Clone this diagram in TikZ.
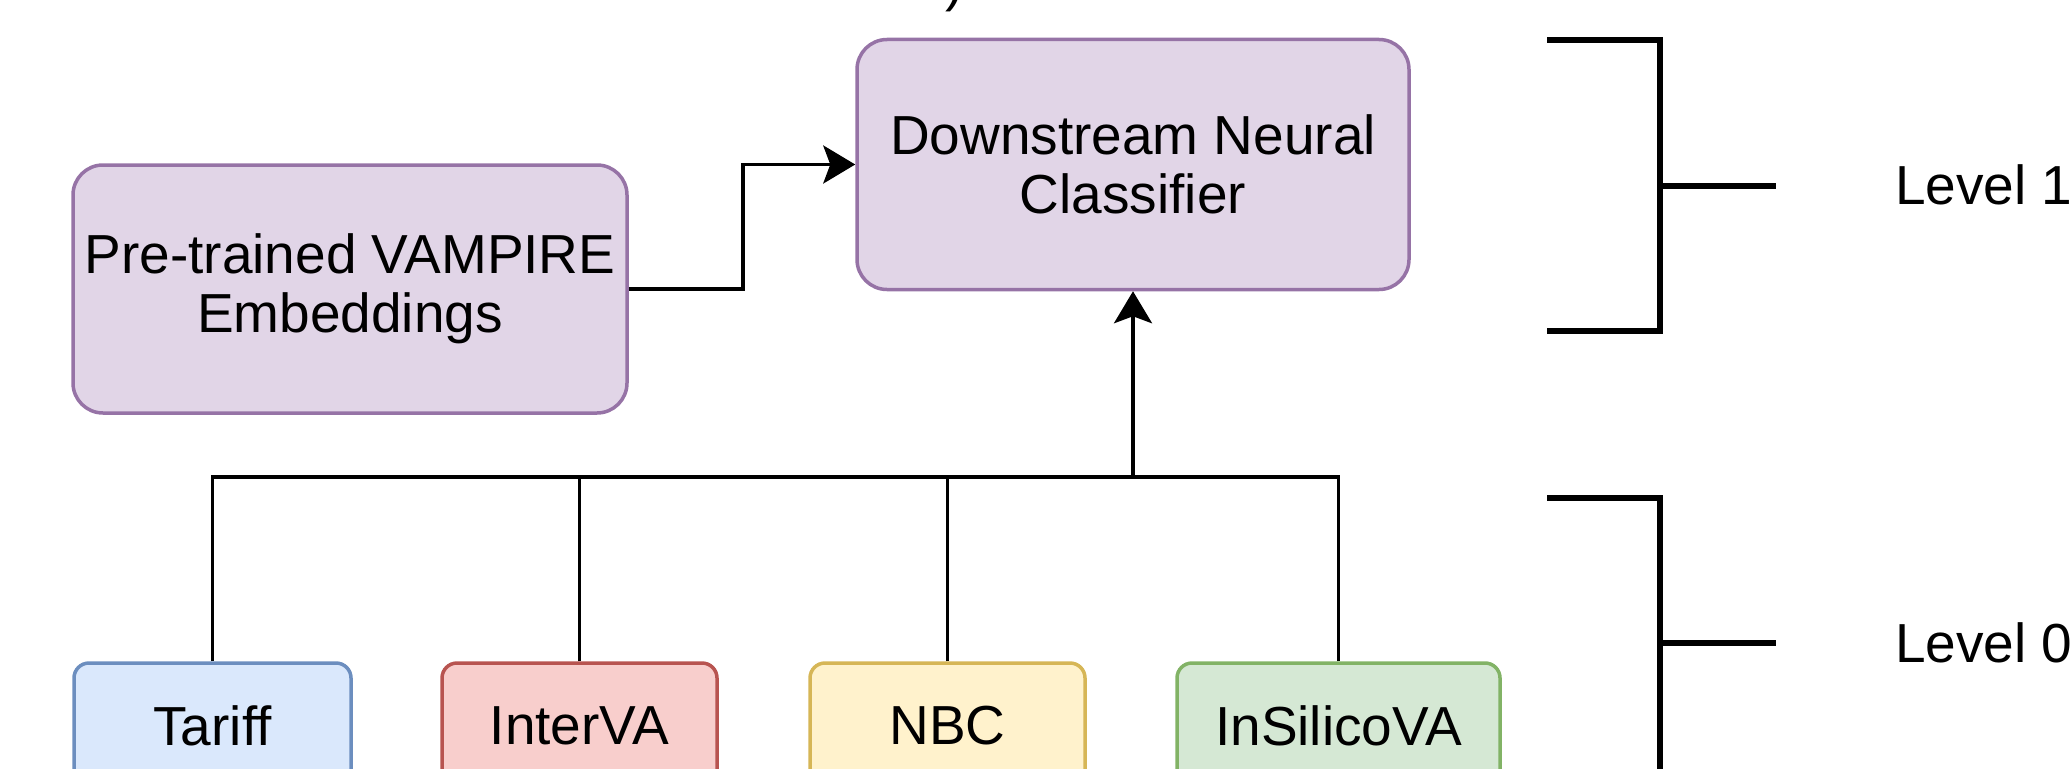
\documentclass[tikz,border=0pt]{standalone}
\usepackage{fontspec}
\setmainfont{Liberation Sans}
\usetikzlibrary{arrows.meta}

\definecolor{purFill}{HTML}{E1D5E7}\definecolor{purLine}{HTML}{9673A6}
\definecolor{bluFill}{HTML}{DAE8FC}\definecolor{bluLine}{HTML}{6C8EBF}
\definecolor{redFill}{HTML}{F8CECC}\definecolor{redLine}{HTML}{B85450}
\definecolor{yelFill}{HTML}{FFF2CC}\definecolor{yelLine}{HTML}{D6B656}
\definecolor{grnFill}{HTML}{D5E8D4}\definecolor{grnLine}{HTML}{82B366}

\newcommand\lblfont{\fontsize{55}{59}\selectfont}

\tikzset{
  box/.style={draw, line width=3.5pt, align=center, font=\lblfont, inner sep=0pt},
  bigbox/.style={box, rounded corners=30pt, minimum height=250pt},
  smallbox/.style={box, rounded corners=15pt, minimum height=126pt},
  purbox/.style={fill=purFill, draw=purLine},
  blubox/.style={fill=bluFill, draw=bluLine},
  redbox/.style={fill=redFill, draw=redLine},
  yelbox/.style={fill=yelFill, draw=yelLine},
  grnbox/.style={fill=grnFill, draw=grnLine},
  conn/.style={draw=black, line width=3.5pt},
  arrowed/.style={conn, -{Stealth[length=32pt, width=38pt, inset=7pt]}},
  brace/.style={draw=black, line width=5.5pt},
  levellabel/.style={font=\lblfont, anchor=base west, inner sep=0pt}
}

\begin{document}
\begin{tikzpicture}[x=1pt, y=-1pt]
\useasboundingbox (0,0) rectangle (2071,768);

% tail of a caption glyph above the figure
\node[font=\lblfont, anchor=base west, inner sep=0pt] (paren) at (945,1) {)};

% level 1 blocks
\node[bigbox, purbox, minimum width=552pt] (dnc) at (1133,164.5) {Downstream Neural\\Classifier};
\node[bigbox, purbox, minimum width=554pt, minimum height=248pt] (vamp) at (350,289) {Pre-trained VAMPIRE\\Embeddings};

% level 0 base models
\node[smallbox, blubox, minimum width=277pt] (tariff) at (212.5,726) {Tariff};
\node[smallbox, redbox, minimum width=275pt] (interva) at (579.5,726) {InterVA};
\node[smallbox, yelbox, minimum width=275pt] (nbc) at (947.5,726) {NBC};
\node[smallbox, grnbox, minimum width=323pt] (insilico) at (1338.5,726) {InSilicoVA};

% collecting bus
\coordinate (bus) at (1133,477);
\draw[conn] (tariff.north) |- (bus);
\draw[conn] (interva.north) |- (bus);
\draw[conn] (nbc.north) |- (bus);
\draw[conn] (insilico.north) |- (bus);
\draw[arrowed] (bus) -- (dnc.south);
\draw[arrowed] (vamp.east) -- ++(114,0) |- (dnc.west);

% level brackets
\draw[brace] (1547,40) -- (1660,40) -- (1660,331) -- (1547,331);
\draw[brace] (1660,186) -- (1776,186);
\node[levellabel] (lvone) at (1895,204) {Level 1};

\draw[brace] (1547,498) -- (1660,498) -- (1660,800);
\draw[brace] (1660,643) -- (1776,643);
\node[levellabel] (lvzero) at (1895,662) {Level 0};
\end{tikzpicture}
\end{document}
